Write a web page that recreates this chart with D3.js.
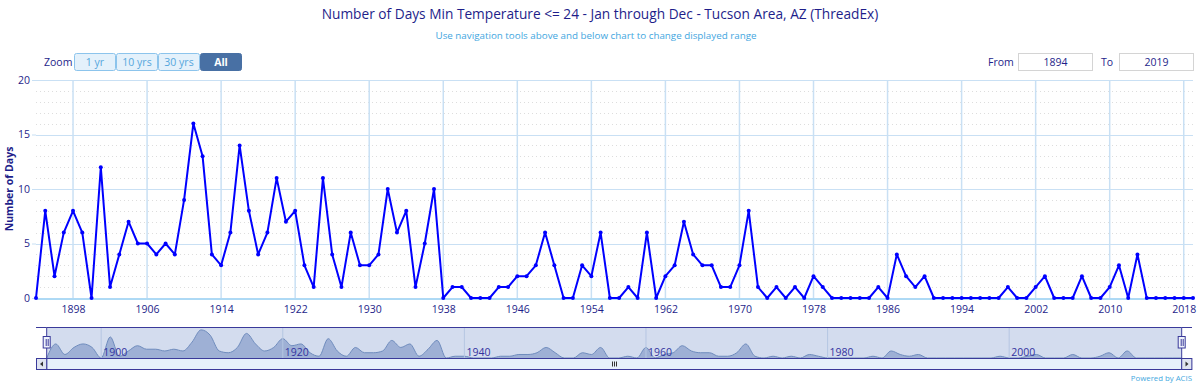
<html>
<head>
<style>
body { margin: 0; background: #fff; }
text { font-family: "Open Sans", "DejaVu Sans", sans-serif; }
.grid line { stroke: #c9e0f4; }
.minor line { stroke: #dddddd; stroke-dasharray: 1,3; }
</style>
</head>
<body>
<svg width="1200" height="385"></svg>
<script src="https://d3js.org/d3.v7.min.js"></script>
<script>
// data
var years = d3.range(1894, 2020)
var days = [
  0, 8, 2, 6, 8, 6, 0, 12, 1, 4, 7, 5, 5, 4, 5, 4, 9, 16, 13, 4,
  3, 6, 14, 8, 4, 6, 11, 7, 8, 3, 1, 11, 4, 1, 6, 3, 3, 4, 10, 6,
  8, 1, 5, 10, 0, 1, 1, 0, 0, 0, 1, 1, 2, 2, 3, 6, 3, 0, 0, 3,
  2, 6, 0, 0, 1, 0, 6, 0, 2, 3, 7, 4, 3, 3, 1, 1, 3, 8, 1, 0,
  1, 0, 1, 0, 2, 1, 0, 0, 0, 0, 0, 1, 0, 4, 2, 1, 2, 0, 0, 0,
  0, 0, 0, 0, 0, 1, 0, 0, 1, 2, 0, 0, 0, 2, 0, 0, 1, 3, 0, 4,
  0, 0, 0, 0, 0, 0
]
var xTicks = d3.range(1898, 2019, 8)
var yTicks = [0, 5, 10, 15, 20]
var navTicks = [1900, 1920, 1940, 1960, 1980, 2000]
var zoomButtons = ["1 yr", "10 yrs", "30 yrs", "All"]

var data = years.map(function (yr, i) { return { year: yr, value: days[i] } })

var svg = d3.select('svg')
var navy = '#1e1e8a'

var x = d3.scaleLinear().domain([1894, 2019]).range([36, 1193])
var y = d3.scaleLinear().domain([0, 20]).range([298, 80])

// title
svg.append('text').attr('x', 600).attr('y', 19).attr('text-anchor', 'middle')
    .attr('fill', navy).style('font-size', '13.7px')
    .text('Number of Days Min Temperature <= 24 - Jan through Dec - Tucson Area, AZ (ThreadEx)')
svg.append('text').attr('x', 596).attr('y', 39).attr('text-anchor', 'middle')
    .attr('fill', '#3fa6e0').style('font-size', '9.8px')
    .text('Use navigation tools above and below chart to change displayed range')

// range selector
svg.append('text').attr('x', 44).attr('y', 66).attr('fill', navy).style('font-size', '10.5px').text('Zoom')
var btn = svg.append('g').selectAll('g').data(zoomButtons).enter().append('g')
    .attr('transform', function (d, i) { return 'translate(' + (74.5 + i * 42) + ',53.5)' })
btn.append('rect').attr('width', 41).attr('height', 17).attr('rx', 2)
    .attr('fill', function (d) { return d == 'All' ? '#4870a4' : '#e4f1fb' })
    .attr('stroke', function (d) { return d == 'All' ? '#4870a4' : '#8cc4ec' })
btn.append('text').attr('x', 20.5).attr('y', 12.3).attr('text-anchor', 'middle')
    .style('font-size', '10.5px')
    .style('font-weight', function (d) { return d == 'All' ? 'bold' : 'normal' })
    .attr('fill', function (d) { return d == 'All' ? '#fff' : '#55a6dc' })
    .text(function (d) { return d })

var inputs = [['From', 988, 1018.5, '1894'], ['To', 1101, 1119.5, '2019']]
inputs.forEach(function (p) {
  svg.append('text').attr('x', p[1]).attr('y', 66).attr('fill', navy).style('font-size', '10.5px').text(p[0])
  svg.append('rect').attr('x', p[2]).attr('y', 53.5).attr('width', 74).attr('height', 17)
      .attr('fill', '#fff').attr('stroke', '#d4d4d4')
  svg.append('text').attr('x', p[2] + 37).attr('y', 66).attr('text-anchor', 'middle')
      .attr('fill', navy).style('font-size', '10.5px').text(p[3])
})

// grid
svg.append('g').attr('class', 'minor').selectAll('line').data(d3.range(1, 20).filter(function (v) { return v % 5 })).enter()
    .append('line').attr('x1', 36).attr('x2', 1193)
    .attr('y1', function (d) { return Math.round(y(d)) + 0.5 }).attr('y2', function (d) { return Math.round(y(d)) + 0.5 })
svg.append('g').attr('class', 'grid').selectAll('line').data(yTicks.slice(1)).enter()
    .append('line').attr('x1', 36).attr('x2', 1193)
    .attr('y1', function (d) { return Math.round(y(d)) + 0.5 }).attr('y2', function (d) { return Math.round(y(d)) + 0.5 })
svg.append('g').attr('class', 'grid').selectAll('line').data(xTicks).enter()
    .append('line').attr('y1', 80).attr('y2', 298).style('stroke-width', 1.5)
    .attr('x1', function (d) { return x(d) }).attr('x2', function (d) { return x(d) })

// axes
var yAxis = svg.append('g').attr('transform', 'translate(36,0)')
    .call(d3.axisLeft(y).tickValues(yTicks).tickSize(4).tickPadding(2))
yAxis.select('.domain').remove()
yAxis.selectAll('line').attr('stroke', '#c9e0f4')
yAxis.selectAll('text').attr('fill', navy).style('font-size', '10.5px').style('font-family', '"Open Sans", sans-serif')

var xAxis = svg.append('g').attr('transform', 'translate(0,298.5)')
    .call(d3.axisBottom(x).tickValues(xTicks).tickFormat(d3.format('d')).tickSize(0).tickPadding(7))
xAxis.select('.domain').attr('stroke', '#5cb3ea')
xAxis.selectAll('text').attr('fill', navy).style('font-size', '10.5px').style('font-family', '"Open Sans", sans-serif')

svg.append('text').attr('transform', 'translate(13,189) rotate(-90)').attr('text-anchor', 'middle')
    .attr('fill', navy).style('font-size', '10.5px').style('font-weight', 'bold').text('Number of Days')

// series
var line = d3.line().x(function (d) { return x(d.year) }).y(function (d) { return y(d.value) })
svg.append('path').datum(data).attr('d', line)
    .attr('fill', 'none').attr('stroke', '#0000ff').attr('stroke-width', 2).attr('stroke-linejoin', 'round')
svg.append('g').selectAll('circle').data(data).enter().append('circle')
    .attr('cx', function (d) { return x(d.year) }).attr('cy', function (d) { return y(d.value) })
    .attr('r', 2).attr('fill', '#0000ff')

// navigator
var nx = d3.scaleLinear().domain([1894, 2019]).range([46.7, 1181.7])
var ny = d3.scaleLinear().domain([0, 16.5]).range([358, 329])
svg.append('rect').attr('x', 46.7).attr('y', 327.5).attr('width', 1135).attr('height', 31)
    .attr('fill', '#d3dcee')
var area = d3.area().curve(d3.curveMonotoneX)
    .x(function (d) { return nx(d.year) }).y0(358).y1(function (d) { return ny(d.value) })
svg.append('path').datum(data).attr('d', area).attr('fill', '#9eb0d5')
svg.append('path').datum(data).attr('d', area.lineY1()).attr('fill', 'none').attr('stroke', '#6f8cbd')
svg.append('g').selectAll('line').data(navTicks).enter().append('line')
    .attr('x1', function (d) { return nx(d) }).attr('x2', function (d) { return nx(d) })
    .attr('y1', 327.5).attr('y2', 358).attr('stroke', '#b5c6e2')
svg.append('g').selectAll('text').data(navTicks).enter().append('text')
    .attr('x', function (d) { return nx(d) + 2 }).attr('y', 356)
    .attr('fill', '#3333a0').style('font-size', '10.5px').text(function (d) { return d })

// navigator outline
svg.append('path').attr('d', 'M36,327.5H46.7V358.5H1181.7V327.5H1192')
    .attr('fill', 'none').attr('stroke', '#3a3a9a')
svg.append('line').attr('x1', 46.7).attr('x2', 1181.7).attr('y1', 327.5).attr('y2', 327.5).attr('stroke', '#3a3a9a')
var handles = [46.7, 1181.7]
handles.forEach(function (hx) {
  svg.append('rect').attr('x', hx - 3.5).attr('y', 336.5).attr('width', 7).attr('height', 11.5)
      .attr('fill', '#eef2fa').attr('stroke', '#3a3a9a')
  svg.append('line').attr('x1', hx - 0.5).attr('x2', hx - 0.5).attr('y1', 339).attr('y2', 346).attr('stroke', '#3a3a9a')
  svg.append('line').attr('x1', hx + 1.5).attr('x2', hx + 1.5).attr('y1', 339).attr('y2', 346).attr('stroke', '#3a3a9a')
})

// scrollbar
svg.append('rect').attr('x', 36.5).attr('y', 358.5).attr('width', 1155).attr('height', 11)
    .attr('fill', '#e6f1fb').attr('stroke', '#3a3a9a')
svg.append('rect').attr('x', 46.7).attr('y', 358.5).attr('width', 1135).attr('height', 11)
    .attr('fill', '#e6f1fb').attr('stroke', '#3a3a9a')
var sbtns = [[36.5, 'M40,364L43,361.5V366.5Z'], [1181.7, 'M1188.5,364L1185.5,361.5V366.5Z']]
sbtns.forEach(function (b) {
  svg.append('rect').attr('x', b[0]).attr('y', 358.5).attr('width', 10.2).attr('height', 11)
      .attr('fill', '#dfe4f0').attr('stroke', '#3a3a9a')
  svg.append('path').attr('d', b[1]).attr('fill', '#333')
})
svg.append('g').selectAll('line').data([-2, 0, 2]).enter().append('line')
    .attr('x1', function (d) { return 614.5 + d }).attr('x2', function (d) { return 614.5 + d })
    .attr('y1', 361.5).attr('y2', 366.5).attr('stroke', '#333')

svg.append('text').attr('x', 1192).attr('y', 381).attr('text-anchor', 'end')
    .attr('fill', '#44a8e0').style('font-size', '7.8px').text('Powered by ACIS')
</script>
</body>
</html>
